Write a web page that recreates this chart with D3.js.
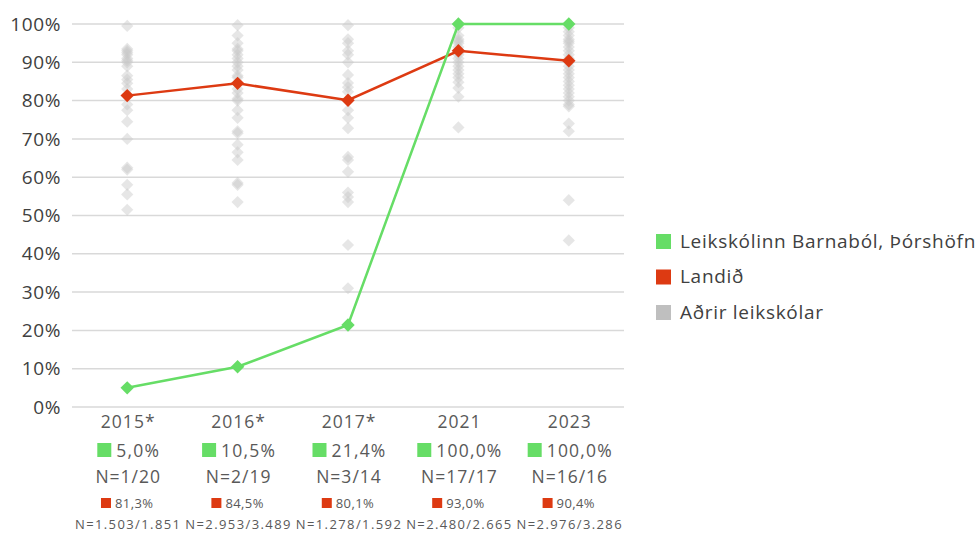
<!DOCTYPE html>
<html><head><meta charset="utf-8">
<script src="https://cdn.jsdelivr.net/npm/d3@7"></script>
<style>body{margin:0;background:#fff;} svg{display:block;}</style>
</head><body>
<svg id="c" width="980" height="533"></svg>
<script>
const categories = ["2015*", "2016*", "2017*", "2021", "2023"];
const schoolValues = [5.0, 10.5, 21.4, 100.0, 100.0];
const schoolN = ["N=1/20", "N=2/19", "N=3/14", "N=17/17", "N=16/16"];
const countryValues = [81.3, 84.5, 80.1, 93.0, 90.4];
const countryN = ["N=1.503/1.851", "N=2.953/3.489", "N=1.278/1.592", "N=2.480/2.665", "N=2.976/3.286"];
const others2015 = [99.5, 93.5, 93, 92.5, 92, 91, 90.5, 90, 89, 86.5, 85.5, 84.5, 83, 79, 77.5, 74.5, 70, 62.5, 62, 58, 55.5, 51.5];
const others2016 = [99.7, 97, 95, 93.5, 93, 92, 91, 90, 89, 88, 86.5, 86, 83, 82, 80.5, 80, 77.5, 75.5, 72, 71.5, 68.5, 66.5, 64.5, 58.5, 58, 53.5];
const others2017 = [99.7, 96, 95, 93, 92, 90, 86.7, 84.6, 83.5, 82.3, 77.5, 75.5, 72.8, 65.3, 64.5, 61.4, 56, 54.8, 53.5, 42.3, 31];
const others2021 = [99, 97, 96, 95.5, 95, 94, 93, 92.5, 92, 91, 90, 89, 88, 87, 86, 84.8, 83.3, 81, 73];
const others2023 = [99, 98, 97, 96, 95.5, 95, 94, 93, 92, 91, 90, 89, 88, 87, 86, 85, 84, 83, 82, 81, 80, 79, 78.5, 74, 72, 54, 43.5];
const otherValues = [others2015, others2016, others2017, others2021, others2023];
const yTicks = [0, 10, 20, 30, 40, 50, 60, 70, 80, 90, 100];
const legendLabels = ["Leikskólinn Barnaból, Þórshöfn", "Landið", "Aðrir leikskólar"];

const GREEN = "#66dd66", RED = "#dd3a12", GRAY = "#bfbfbf", TXT = "#595959";
const FONT = "'Open Sans', sans-serif";
const svg = d3.select("#c");
const x = d3.scaleBand().domain(categories).range([72, 624]);
const y = d3.scaleLinear().domain([0, 100]).range([407, 24]);
const cx = d => x(d) + x.bandwidth() / 2;

svg.append("g").selectAll("line").data(yTicks).join("line")
  .attr("x1", 72).attr("x2", 624)
  .attr("y1", d => y(d)).attr("y2", d => y(d))
  .attr("stroke", "#d9d9d9").attr("stroke-width", 1.5);

svg.append("g").selectAll("text").data(yTicks).join("text")
  .attr("x", 61).attr("y", d => y(d)).attr("dy", "0.35em")
  .attr("text-anchor", "end").attr("font-family", FONT).attr("font-size", 19)
  .attr("letter-spacing", 0.6)
  .attr("fill", "#404040").text(d => d + "%");

const diamond = d3.symbol().type(d3.symbolDiamond2);

const og = svg.append("g");
categories.forEach((c, i) => {
  og.selectAll(null).data(otherValues[i]).join("path")
    .attr("d", diamond.size(95)())
    .attr("transform", d => `translate(${cx(c)},${y(d)})`)
    .attr("fill", "#c8c8c8").attr("fill-opacity", 0.45);
});

const line = d3.line().x((d, i) => cx(categories[i])).y(d => y(d));
svg.append("path").datum(countryValues).attr("d", line)
  .attr("fill", "none").attr("stroke", RED).attr("stroke-width", 2.5);
svg.append("g").selectAll("path").data(countryValues).join("path")
  .attr("d", diamond.size(115)())
  .attr("transform", (d, i) => `translate(${cx(categories[i])},${y(d)})`)
  .attr("fill", RED);
svg.append("path").datum(schoolValues).attr("d", line)
  .attr("fill", "none").attr("stroke", GREEN).attr("stroke-width", 2.5);
svg.append("g").selectAll("path").data(schoolValues).join("path")
  .attr("d", diamond.size(115)())
  .attr("transform", (d, i) => `translate(${cx(categories[i])},${y(d)})`)
  .attr("fill", GREEN);

const fmt = v => v.toFixed(1).replace(".", ",") + "%";
const tg = svg.append("g").attr("font-family", FONT).attr("fill", TXT);
categories.forEach((c, i) => {
  const X = cx(c);
  tg.append("text").attr("x", X + 1).attr("y", 428).attr("text-anchor", "middle").attr("font-size", 17.5).attr("letter-spacing", 1).text(c);
  const g1 = tg.append("g");
  const t1 = g1.append("text").attr("x", X + 11).attr("y", 457).attr("text-anchor", "middle").attr("font-size", 17.5).attr("letter-spacing", 1.2).text(fmt(schoolValues[i]));
  const w1 = t1.node().getComputedTextLength();
  g1.append("rect").attr("x", X + 11 - w1 / 2 - 19).attr("y", 443).attr("width", 14).attr("height", 14).attr("fill", GREEN);
  tg.append("text").attr("x", X + 1).attr("y", 483).attr("text-anchor", "middle").attr("font-size", 17.5).attr("letter-spacing", 1).text(schoolN[i]);
  const g2 = tg.append("g");
  const t2 = g2.append("text").attr("x", X + 7).attr("y", 508).attr("text-anchor", "middle").attr("font-size", 13).attr("letter-spacing", 0.4).text(fmt(countryValues[i]));
  const w2 = t2.node().getComputedTextLength();
  g2.append("rect").attr("x", X + 7 - w2 / 2 - 14).attr("y", 498).attr("width", 10).attr("height", 10).attr("fill", RED);
  tg.append("text").attr("x", X + 1).attr("y", 529).attr("text-anchor", "middle").attr("font-size", 13).attr("letter-spacing", 1.4).text(countryN[i]);
});

const legColors = [GREEN, RED, GRAY];
const lg = svg.append("g").attr("font-family", FONT);
legendLabels.forEach((l, i) => {
  const Y = 241 + i * 35.5;
  lg.append("rect").attr("x", 656).attr("y", Y - 7).attr("width", 15).attr("height", 15).attr("fill", legColors[i]);
  lg.append("text").attr("x", 680).attr("y", Y).attr("dy", "0.35em").attr("font-size", 19).attr("letter-spacing", 0.7).attr("fill", "#404040").text(l);
});
</script>
</body></html>
